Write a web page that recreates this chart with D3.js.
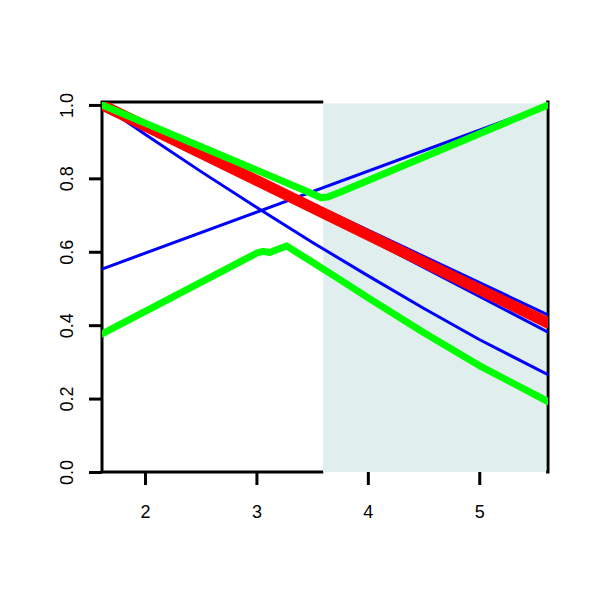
<!DOCTYPE html>
<html>
<head>
<meta charset="utf-8">
<script src="https://cdn.jsdelivr.net/npm/d3@7"></script>
<style>
  html, body { margin: 0; padding: 0; background: #ffffff; }
  svg { display: block; }
  text { font-family: "Liberation Sans", Arial, Helvetica, sans-serif; }
</style>
</head>
<body>
<svg id="chart" width="600" height="600"></svg>
<script>
// ---------- data ----------
const xTicks = [2, 3, 4, 5];
const yTicks = [0, 0.2, 0.4, 0.6, 0.8, 1.0];
const xLimits = [1.614, 5.617];
const yLimits = [0, 1.008];
const shadeRange = [3.6, 5.6];

// blue, rising straight line
const blueUpX = [1.614, 5.617];
const blueUpY = [0.553, 1.0];
// blue, falling curve
const blueDownX = [1.614, 2.0, 2.5, 3.0, 3.5, 4.0, 4.5, 5.0, 5.617];
const blueDownY = [1.0, 0.920, 0.819, 0.721, 0.626, 0.535, 0.446, 0.361, 0.265];
// blue lines hugging the red one
const blueAX = [1.614, 5.617];
const blueAY = [1.0, 0.428];
const blueBX = [1.614, 3.6, 5.617];
const blueBY = [1.0, 0.700, 0.381];
// red thick line
const redX = [1.614, 5.617];
const redY = [1.0, 0.406];
// green upper (V shape)
const greenUpX = [1.614, 3.45, 3.53, 3.58, 3.64, 3.75, 5.617];
const greenUpY = [1.0, 0.765, 0.754, 0.747, 0.749, 0.762, 1.0];
// green lower (rise, peak, fall)
const greenLowX = [1.614, 3.0, 3.06, 3.12, 3.17, 3.27, 3.5, 3.75, 4.0, 4.5, 5.0, 5.617];
const greenLowY = [0.376, 0.596, 0.601, 0.598, 0.604, 0.616, 0.572, 0.524, 0.475, 0.380, 0.290, 0.192];

// ---------- layout ----------
const mLeft = 102, mRight = 548, mTop = 102, mBottom = 472;
const svg = d3.select("#chart");

const x = d3.scaleLinear().domain(xLimits).range([mLeft, mRight]);
const y = d3.scaleLinear().domain(yLimits).range([mBottom, mTop]);

// box
svg.append("rect")
  .attr("x", mLeft).attr("y", mTop)
  .attr("width", mRight - mLeft).attr("height", mBottom - mTop)
  .attr("fill", "none").attr("stroke", "#000").attr("stroke-width", 3);

// shaded region (its edge hides the box border beneath it)
svg.append("rect")
  .attr("x", x(shadeRange[0])).attr("y", mTop - 2)
  .attr("width", x(shadeRange[1]) - x(shadeRange[0]))
  .attr("height", mBottom - mTop + 4)
  .attr("fill", "#ffffff");
svg.append("rect")
  .attr("x", x(shadeRange[0])).attr("y", mTop + 1.5)
  .attr("width", x(shadeRange[1]) - x(shadeRange[0]))
  .attr("height", mBottom - mTop - 1.5)
  .attr("fill", "#E0EEEE");

// clip
svg.append("clipPath").attr("id", "plotclip")
  .append("rect").attr("x", mLeft).attr("y", mTop)
  .attr("width", mRight - mLeft).attr("height", mBottom - mTop);

const g = svg.append("g").attr("clip-path", "url(#plotclip)");
const line = d3.line().x(d => x(d[0])).y(d => y(d[1]));
const zip = (xs, ys) => xs.map((v, i) => [v, ys[i]]);

function draw(xs, ys, color, w) {
  g.append("path")
    .attr("d", line(zip(xs, ys)))
    .attr("fill", "none")
    .attr("stroke", color)
    .attr("stroke-width", w)
    .attr("stroke-linecap", "round")
    .attr("stroke-linejoin", "round");
}

draw(blueUpX, blueUpY, "#0000FF", 3);
draw(blueDownX, blueDownY, "#0000FF", 3);
draw(blueAX, blueAY, "#0000FF", 3);
draw(blueBX, blueBY, "#0000FF", 3);
draw(redX, redY, "#FF0000", 11);
draw(greenUpX, greenUpY, "#00FF00", 7);
draw(greenLowX, greenLowY, "#00FF00", 7);

// axes
const xAxis = d3.axisBottom(x).tickValues(xTicks).tickSize(13).tickPadding(20)
  .tickFormat(d3.format("d"));
const gx = svg.append("g").attr("transform", `translate(0,${mBottom})`).call(xAxis);
gx.select(".domain").remove();
gx.selectAll(".tick line").attr("stroke", "#000").attr("stroke-width", 3);
gx.selectAll(".tick text").attr("fill", "#000").style("font-size", "18px")
  .style("font-family", '"Liberation Sans", Arial, Helvetica, sans-serif');

const yAxis = d3.axisLeft(y).tickValues(yTicks).tickSize(13).tickFormat(d3.format(".1f"));
const gy = svg.append("g").attr("transform", `translate(${mLeft},0)`).call(yAxis);
gy.select(".domain").remove();
gy.selectAll(".tick line").attr("stroke", "#000").attr("stroke-width", 3);
gy.selectAll(".tick text")
  .attr("transform", "rotate(-90)")
  .attr("x", 0).attr("y", -29).attr("dy", 0)
  .attr("text-anchor", "middle")
  .attr("fill", "#000").style("font-size", "18px")
  .style("font-family", '"Liberation Sans", Arial, Helvetica, sans-serif');
</script>
</body>
</html>
